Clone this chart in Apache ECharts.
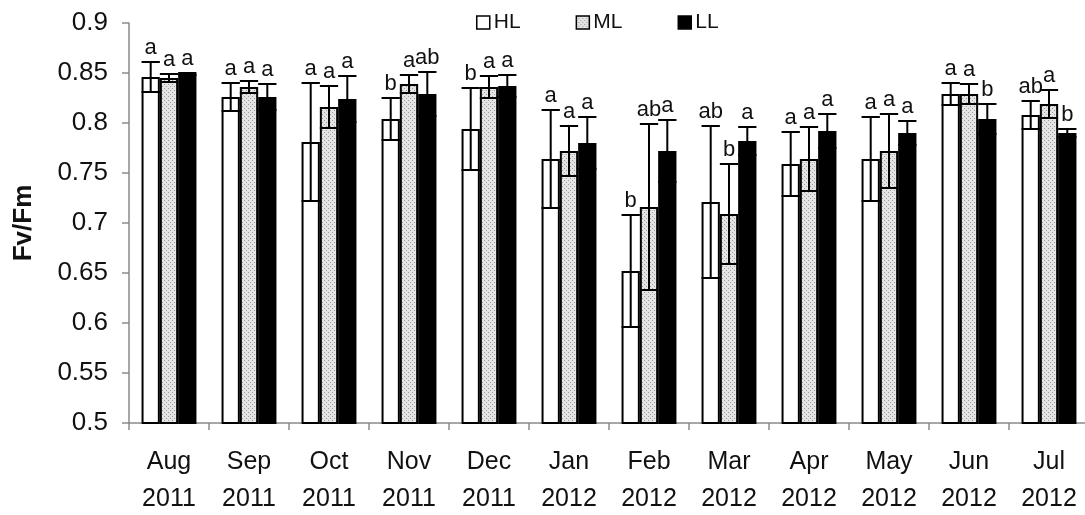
<!DOCTYPE html>
<html>
<head>
<meta charset="utf-8">
<script src="https://cdn.jsdelivr.net/npm/echarts@6/dist/echarts.min.js"></script>
<style>
  html, body { margin: 0; padding: 0; background: #fff; }
  #chart { width: 1085px; height: 515px; }
</style>
</head>
<body>
<div id="chart"></div>
<script>
// Monthly Fv/Fm under three light treatments (mean ± error)
const months = ['Aug\n2011', 'Sep\n2011', 'Oct\n2011', 'Nov\n2011', 'Dec\n2011', 'Jan\n2012',
                'Feb\n2012', 'Mar\n2012', 'Apr\n2012', 'May\n2012', 'Jun\n2012', 'Jul\n2012'];
const yTicks = ['0.5', '0.55', '0.6', '0.65', '0.7', '0.75', '0.8', '0.85', '0.9'];

const hlValues = [0.846, 0.826, 0.781, 0.804, 0.794, 0.764, 0.652, 0.721, 0.759, 0.764, 0.829, 0.808];
const hlErrors = [0.015, 0.014, 0.059, 0.021, 0.041, 0.049, 0.056, 0.076, 0.032, 0.042, 0.011, 0.014];
const hlLetters = ['a', 'a', 'a', 'b', 'b', 'a', 'b', 'ab', 'a', 'a', 'a', 'ab'];

const mlValues = [0.845, 0.836, 0.816, 0.839, 0.836, 0.772, 0.716, 0.709, 0.764, 0.772, 0.829, 0.819];
const mlErrors = [0.004, 0.006, 0.021, 0.009, 0.011, 0.025, 0.083, 0.050, 0.032, 0.037, 0.010, 0.014];
const mlLetters = ['a', 'a', 'a', 'a', 'a', 'a', 'ab', 'b', 'a', 'a', 'a', 'a'];

const llValues = [0.849, 0.826, 0.824, 0.829, 0.837, 0.780, 0.772, 0.782, 0.792, 0.790, 0.804, 0.790];
const llErrors = [0.001, 0.013, 0.023, 0.022, 0.011, 0.026, 0.031, 0.014, 0.017, 0.012, 0.015, 0.004];
const llLetters = ['a', 'a', 'a', 'ab', 'a', 'a', 'a', 'a', 'a', 'a', 'b', 'b'];

const FONT = '"Liberation Sans", Arial, Helvetica, sans-serif';
const BAR_W = 18.3;

// fine dotted grey fill used for the ML bars
function dotPattern() {
  const c = document.createElement('canvas');
  c.width = 4; c.height = 4;
  const g = c.getContext('2d');
  g.fillStyle = '#e4e4e4';
  g.fillRect(0, 0, 4, 4);
  g.fillStyle = '#9a9a9a';
  g.fillRect(0, 0, 1, 1);
  g.fillRect(2, 2, 1, 1);
  return c;
}
const mlFill = { image: dotPattern(), repeat: 'repeat' };

const groups = [
  { name: 'HL', values: hlValues, errors: hlErrors, letters: hlLetters, fill: '#ffffff' },
  { name: 'ML', values: mlValues, errors: mlErrors, letters: mlLetters, fill: mlFill },
  { name: 'LL', values: llValues, errors: llErrors, letters: llLetters, fill: '#000000' }
];

function errorRenderer(groupIdx) {
  const letters = groups[groupIdx].letters;
  return function (params, api) {
    const cat = api.value(0), v = api.value(1), e = api.value(2);
    const off = (groupIdx - 1) * BAR_W;
    const top = api.coord([cat, v + e]);
    const bot = api.coord([cat, v - e]);
    const x = top[0] + off;
    const hw = BAR_W / 2;
    const lineStyle = { stroke: '#000', lineWidth: 2 };
    return {
      type: 'group',
      children: [
        { type: 'line', shape: { x1: x, y1: top[1], x2: x, y2: bot[1] }, style: lineStyle },
        { type: 'line', shape: { x1: x - hw, y1: top[1], x2: x + hw, y2: top[1] }, style: lineStyle },
        { type: 'line', shape: { x1: x - hw, y1: bot[1], x2: x + hw, y2: bot[1] }, style: lineStyle },
        {
          type: 'text',
          x: x, y: top[1] - 3,
          style: {
            text: letters[params.dataIndex],
            textAlign: 'center', textVerticalAlign: 'bottom',
            fontSize: 22, fontFamily: FONT, fill: '#111'
          }
        }
      ]
    };
  };
}

const series = [];
groups.forEach(function (g) {
  series.push({
    name: g.name,
    type: 'bar',
    data: g.values,
    barWidth: BAR_W,
    barGap: '0%',
    itemStyle: { color: g.fill, borderColor: '#000', borderWidth: 2 },
    z: 2
  });
});
groups.forEach(function (g, i) {
  series.push({
    type: 'custom',
    renderItem: errorRenderer(i),
    data: g.values.map(function (v, k) { return [k, v, g.errors[k]]; }),
    encode: { x: 0, y: 1 },
    z: 5,
    silent: true
  });
});

const chart = echarts.init(document.getElementById('chart'), null, { renderer: 'canvas' });
chart.setOption({
  animation: false,
  backgroundColor: '#ffffff',
  grid: { left: 129, top: 23, width: 960, height: 400, containLabel: false, outerBoundsMode: 'none' },
  legend: {
    data: ['HL', 'ML', 'LL'],
    left: 476, top: 12,
    padding: 0,
    itemWidth: 13, itemHeight: 13,
    itemGap: 55,
    icon: 'rect',
    itemStyle: { borderColor: '#000', borderWidth: 1.5 },
    textStyle: { fontSize: 21, fontFamily: FONT, color: '#111', padding: [0, 0, 0, -1] }
  },
  xAxis: {
    type: 'category',
    data: months,
    axisLine: { lineStyle: { color: '#8a8a8a', width: 1.5 } },
    axisTick: { show: true, inside: false, length: 7, alignWithLabel: false, lineStyle: { color: '#8a8a8a', width: 1.5 } },
    axisLabel: { fontSize: 25, fontFamily: FONT, color: '#111', lineHeight: 37, margin: 21, interval: 0 },
    splitLine: { show: false }
  },
  yAxis: {
    type: 'value',
    min: 0.5, max: 0.9, interval: 0.05,
    name: 'Fv/Fm',
    nameLocation: 'middle',
    nameRotate: 90,
    nameGap: 92,
    nameTextStyle: { fontSize: 26, fontWeight: 'bold', fontFamily: FONT, color: '#111' },
    axisLine: { show: true, lineStyle: { color: '#8a8a8a', width: 1.5 } },
    axisTick: { show: true, inside: false, length: 7, lineStyle: { color: '#8a8a8a', width: 1.5 } },
    axisLabel: {
      fontSize: 26, fontFamily: FONT, color: '#111', margin: 21,
      formatter: function (v) {
        const idx = Math.round((v - 0.5) / 0.05);
        return yTicks[idx] !== undefined ? yTicks[idx] : '';
      }
    },
    splitLine: { show: false }
  },
  series: series
});
</script>
</body>
</html>
